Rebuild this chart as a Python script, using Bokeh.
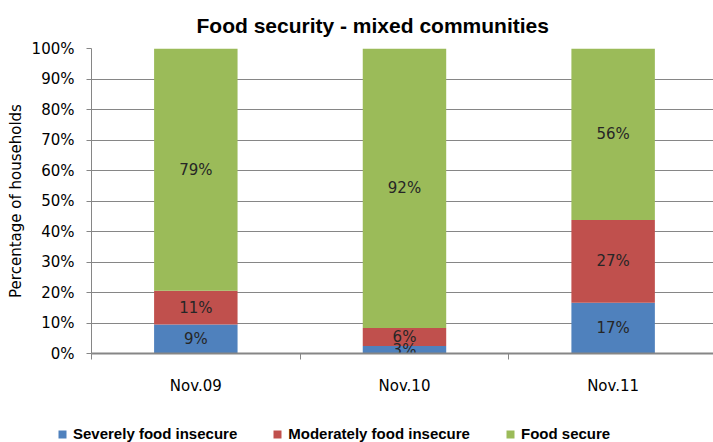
from bokeh.plotting import figure
from bokeh.models import (ColumnDataSource, FixedTicker, Legend, LegendItem, Range1d)
from bokeh.layouts import column, row
from bokeh.core.properties import value
from bokeh.embed import file_html
from bokeh.resources import INLINE

# ---- data ----
periods = ["Nov.09", "Nov.10", "Nov.11"]
severe = [9.5, 2.5, 16.6]
moderate = [11.1, 5.9, 27.2]
secure = [79.4, 91.6, 56.2]
severe_labels = ["9%", "3%", "17%"]
moderate_labels = ["11%", "6%", "27%"]
secure_labels = ["79%", "92%", "56%"]
series_names = ["Severely food insecure", "Moderately food insecure", "Food secure"]
colors = ["#4F81BD", "#C0504D", "#9BBB59"]
y_ticks = list(range(0, 101, 10))

xs = [i + 0.5 for i in range(len(periods))]

src = ColumnDataSource(dict(x=xs, severe=severe, moderate=moderate, secure=secure))

p = figure(width=713, height=412, output_backend="svg", toolbar_location=None,
           x_range=Range1d(0, 2.981), y_range=Range1d(0, 100),
           min_border_left=91, min_border_right=0, min_border_top=48,
           min_border_bottom=59)
p.outline_line_color = None

p.title.text = "Food security - mixed communities"
p.title.text_font = "Liberation Sans"
p.title.text_font_style = "bold"
p.title.text_font_size = "21px"
p.title.text_color = "#000000"
p.title.align = "left"
p.title.offset = 105
p.title.standoff = 23

renderers = p.vbar_stack(["severe", "moderate", "secure"], x="x", width=0.4,
                         color=colors, source=src, line_color=None)

# data labels at segment centres
lab_x, lab_y, lab_t = [], [], []
for i in range(len(periods)):
    b = 0.0
    for vals, labs in ((severe, severe_labels), (moderate, moderate_labels), (secure, secure_labels)):
        lab_x.append(xs[i])
        lab_y.append(b + vals[i] / 2)
        lab_t.append(labs[i])
        b += vals[i]
p.text(x=lab_x, y=lab_y, text=lab_t, text_align="center", text_baseline="middle",
       text_font=value("DejaVu Sans"), text_font_size="15px", text_color="#262626")

# axes
grid_col = "#868686"
p.xgrid.grid_line_color = None
p.ygrid.grid_line_color = grid_col
p.ygrid.ticker = FixedTicker(ticks=y_ticks)

p.yaxis.ticker = FixedTicker(ticks=y_ticks)
p.yaxis.major_label_overrides = {t: f"{t}%" for t in y_ticks}
p.yaxis.axis_line_color = grid_col
p.yaxis.major_tick_line_color = grid_col
p.yaxis.major_tick_out = 5
p.yaxis.major_tick_in = 0
p.yaxis.minor_tick_line_color = None
p.yaxis.major_label_standoff = 12
p.yaxis.major_label_text_font = "DejaVu Sans"
p.yaxis.major_label_text_font_size = "15px"
p.yaxis.major_label_text_color = "#000000"
p.yaxis.axis_label = "Percentage of households"
p.yaxis.axis_label_text_font = "DejaVu Sans"
p.yaxis.axis_label_text_font_style = "normal"
p.yaxis.axis_label_text_font_size = "15px"
p.yaxis.axis_label_text_color = "#000000"
p.yaxis.axis_label_standoff = 4

p.xaxis.ticker = FixedTicker(ticks=xs, minor_ticks=[0, 1, 2, 3])
p.xaxis.major_label_overrides = {x: n for x, n in zip(xs, periods)}
p.xaxis.axis_line_color = grid_col
p.xaxis.axis_line_width = 2
p.xaxis.major_tick_line_color = None
p.xaxis.major_tick_out = 0
p.xaxis.major_tick_in = 0
p.xaxis.minor_tick_line_color = grid_col
p.xaxis.minor_tick_out = 6
p.xaxis.minor_tick_in = 0
p.xaxis.major_label_standoff = 17
p.xaxis.major_label_text_font = "DejaVu Sans"
p.xaxis.major_label_text_font_size = "15px"
p.xaxis.major_label_text_color = "#000000"

# ---- legend strip below the chart ----
lg = figure(width=713, height=30, output_backend="svg", toolbar_location=None,
            x_axis_location=None, y_axis_location=None,
            x_range=Range1d(0, 1), y_range=Range1d(0, 1),
            min_border=0, min_border_left=0, min_border_right=0,
            min_border_top=0, min_border_bottom=0)
lg.outline_line_color = None
lg.xgrid.visible = False
lg.ygrid.visible = False
# key swatches reuse the series (hidden in this strip, shown only as legend keys)
keys = lg.vbar_stack(["severe", "moderate", "secure"], x="x", width=0.4,
                     color=colors, source=src, line_color=None)
for k in keys:
    k.visible = False

legend = Legend(items=[LegendItem(label=n, renderers=[r]) for n, r in zip(series_names, keys)],
                orientation="horizontal", location=(57, 0))
legend.label_text_font = "Liberation Sans"
legend.label_text_font_style = "bold"
legend.label_text_font_size = "15px"
legend.label_text_color = "#000000"
legend.glyph_width = 10
legend.glyph_height = 10
legend.label_height = 16
legend.label_standoff = 6
legend.spacing = 35
legend.padding = 0
legend.margin = 0
legend.border_line_color = None
legend.background_fill_alpha = 0
lg.add_layout(legend, "center")

layout = column(p, row(lg, spacing=0), spacing=0)
open("out.html", "w").write(file_html(layout, INLINE))
